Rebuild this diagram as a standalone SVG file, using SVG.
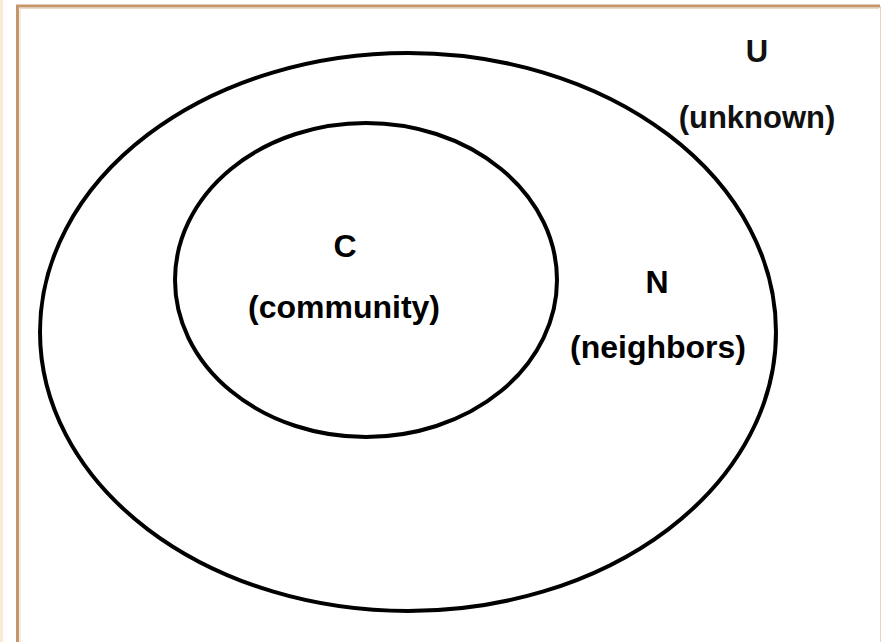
<svg xmlns="http://www.w3.org/2000/svg" width="881" height="642" viewBox="0 0 881 642">
<style>
.ring{fill:none;stroke:#000;stroke-width:4}
.lbl{font-family:"Liberation Sans",Arial,sans-serif;font-weight:bold;font-size:32px;fill:#000;text-anchor:middle}
.lbl2{font-family:"Liberation Sans",Arial,sans-serif;font-weight:bold;font-size:31px;fill:#111;text-anchor:middle}
</style>
<rect x="0" y="0" width="881" height="642" fill="#fff"/>
<rect x="0" y="0" width="3" height="642" fill="#FDEAD6"/>
<path d="M17.5,642 V6 H880" fill="none" stroke="#C4966A" stroke-width="3"/>
<path d="M20,642 V8.5 H879" fill="none" stroke="#EAD9C6" stroke-width="1"/>
<line x1="880.5" y1="6" x2="880.5" y2="642" stroke="#E6D4C0" stroke-width="1"/>
<g id="U">
<ellipse class="ring" cx="408" cy="332" rx="368" ry="279"/>
<text class="lbl2" x="757" y="62">U</text>
<text class="lbl2" x="757" y="128">(unknown)</text>
</g>
<g id="N">
<text class="lbl" x="657" y="293">N</text>
<text class="lbl" x="658" y="358">(neighbors)</text>
</g>
<g id="C">
<ellipse class="ring" cx="366" cy="280" rx="191" ry="157"/>
<text class="lbl" x="345" y="257">C</text>
<text class="lbl" x="344" y="318">(community)</text>
</g>
<g id="connectors"/>
</svg>
